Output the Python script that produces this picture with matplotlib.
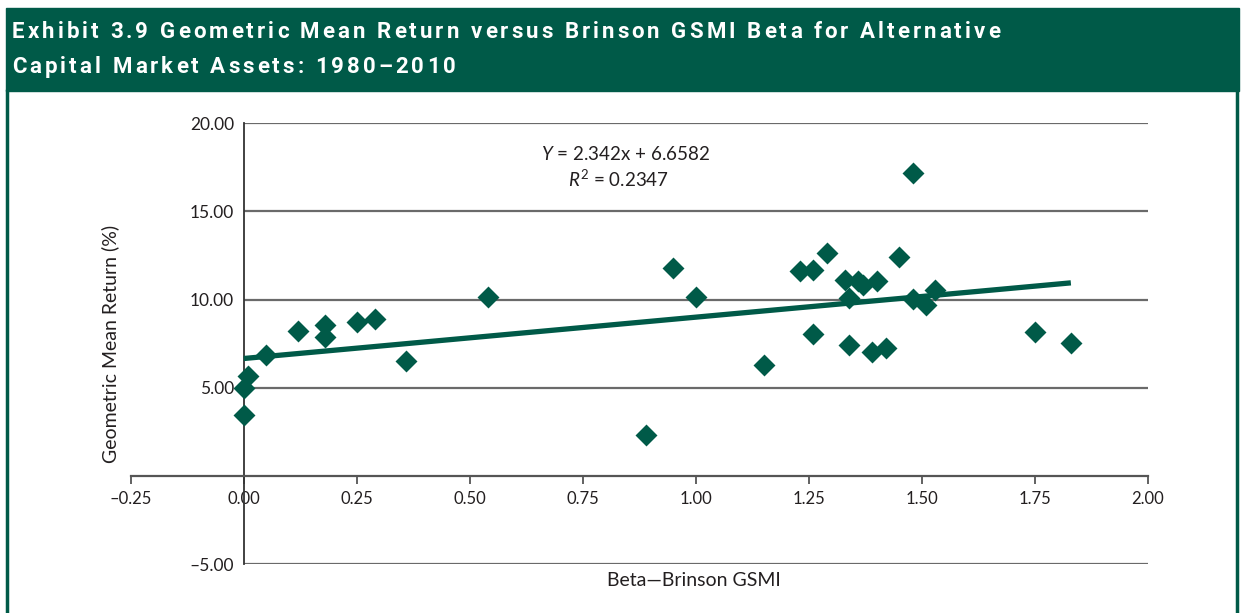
import matplotlib
matplotlib.use("Agg")
import matplotlib.pyplot as plt
from matplotlib import font_manager
from matplotlib.ft2font import FT2Font, LoadFlags
from matplotlib.patches import Rectangle
from matplotlib.lines import Line2D

plt.rcParams['font.family'] = ['Lato', 'DejaVu Sans']
plt.rcParams['mathtext.fontset'] = 'custom'
plt.rcParams['mathtext.rm'] = 'Lato'
plt.rcParams['mathtext.it'] = 'Lato:italic'

GREEN = '#005a48'
TXT = '#231f20'

# beta vs geometric mean return
beta = [0.00, 0.00, 0.01, 0.05, 0.12, 0.18, 0.18, 0.25, 0.29, 0.36,
        0.54, 0.89, 0.95, 1.00, 1.15, 1.23, 1.26, 1.26, 1.29, 1.33,
        1.34, 1.34, 1.36, 1.37, 1.40, 1.39, 1.42, 1.45, 1.48, 1.48,
        1.51, 1.53, 1.75, 1.83]
geo_return = [3.44, 5.00, 5.67, 6.84, 8.22, 8.54, 7.90, 8.70, 8.92, 6.52,
              10.17, 2.31, 11.81, 10.13, 6.28, 11.59, 11.70, 8.05, 12.61, 11.08,
              10.06, 7.41, 11.06, 10.83, 11.04, 7.05, 7.26, 12.42, 17.16, 10.02,
              9.69, 10.54, 8.15, 7.56]

slope = 2.342
intercept = 6.6582
r_squared = 0.2347

x_ticks = [-0.25, 0.0, 0.25, 0.5, 0.75, 1.0, 1.25, 1.5, 1.75, 2.0]
y_ticks = [-5, 5, 10, 15, 20]

title1 = 'Exhibit 3.9 Geometric Mean Return versus Brinson GSMI Beta for Alternative'
title2 = 'Capital Market Assets: 1980\u20132010'


def fmt(v):
    s = '%.2f' % v
    return s.replace('-', '\u2013')


fig = plt.figure(figsize=(12.42, 6.13), dpi=100)
W, H = 1242.0, 613.0

# header band + frame
fig.patches.append(Rectangle((6 / W, 1 - 91 / H), 1233 / W, 83 / H,
                             transform=fig.transFigure, color=GREEN, zorder=0))
fig.lines.append(Line2D([7 / W, 7 / W], [0, 1 - 91 / H], transform=fig.transFigure,
                        color=GREEN, lw=2.5))
fig.lines.append(Line2D([1237 / W, 1237 / W], [0, 1 - 91 / H], transform=fig.transFigure,
                        color=GREEN, lw=2.5))

# title has wide letter spacing -> place glyphs one by one
tsize = 16
fpath = font_manager.findfont(font_manager.FontProperties(family='Roboto', weight='bold'))
ft = FT2Font(fpath)
ft.set_size(tsize, 100)


def advances(s):
    return [ft.load_char(ord(c), flags=LoadFlags.NO_HINTING).linearHoriAdvance / 65536 for c in s]


track = (988 - sum(advances(title1))) / (len(title1) - 1)


def spaced_text(s, x, y):
    for c, a in zip(s, advances(s)):
        if c != ' ':
            fig.text(x / W, 1 - y / H, c, color='white', family='Roboto',
                     fontweight='bold', fontsize=tsize, va='center', ha='left')
        x += a + track


spaced_text(title1, 12, 32)
spaced_text(title2, 12, 67)

ax = fig.add_axes([130.7 / W, 1 - 564.3 / H, 1017 / W, 441.3 / H])
ax.set_xlim(-0.25, 2.0)
ax.set_ylim(-5, 20)

for s in ['top', 'right']:
    ax.spines[s].set_visible(False)
ax.spines['left'].set_position(('data', 0))
ax.spines['bottom'].set_position(('data', 0))
ax.spines['left'].set_color('#333333')
ax.spines['bottom'].set_color('#555555')
ax.spines['left'].set_linewidth(1.3)
ax.spines['bottom'].set_linewidth(1.6)

ax.hlines(y_ticks, 0, 2.0, color='#6a6a6a', lw=1.6, zorder=1)

ax.set_xticks(x_ticks)
ax.set_xticklabels([fmt(v) for v in x_ticks])
ax.set_yticks(y_ticks)
ax.set_yticklabels([fmt(v) for v in y_ticks])
ax.tick_params(axis='x', direction='out', length=6, width=1.3, color='#555555',
               labelsize=12, labelcolor=TXT, pad=5)
ax.tick_params(axis='y', length=0, labelsize=12.5, labelcolor=TXT, pad=7)

# regression line over the range of betas
x0, x1 = min(beta), max(beta)
ax.plot([x0, x1], [intercept + slope * x0, intercept + slope * x1],
        color=GREEN, lw=3.8, zorder=3, solid_capstyle='butt')
ax.scatter(beta, geo_return, marker='D', s=125, color=GREEN, zorder=4, linewidths=0)

ax.text(0.844, 18.24, '$\\mathit{Y}$ = %.3fx + %.4f' % (slope, intercept),
        ha='center', va='center', fontsize=13.5, color=TXT)
ax.text(0.83, 16.82, '$\\mathit{R}^2$ = %.4f' % r_squared,
        ha='center', va='center', fontsize=13.5, color=TXT)

fig.text(110 / W, 1 - 344 / H, 'Geometric Mean Return (%)', rotation=90,
         ha='center', va='center', fontsize=14, color=TXT)
fig.text(694 / W, 1 - 581 / H, 'Beta\u2014Brinson GSMI',
         ha='center', va='center', fontsize=14, color=TXT)

fig.savefig('out.png', dpi=100)
